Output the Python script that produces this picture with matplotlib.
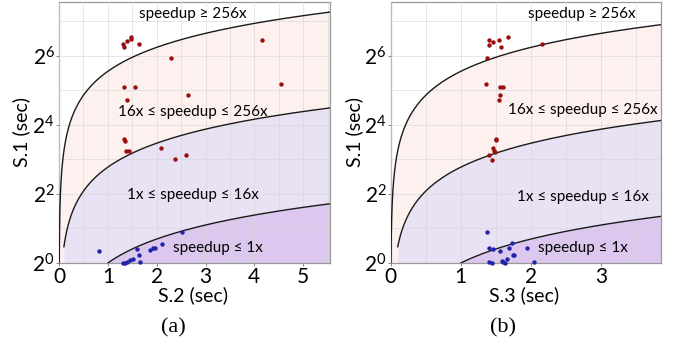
import numpy as np
import matplotlib
matplotlib.use("Agg")
import matplotlib.pyplot as plt

plt.rcParams['font.family'] = ['Lato', 'DejaVu Sans']
plt.rcParams['mathtext.fontset'] = 'custom'
plt.rcParams['mathtext.rm'] = 'Lato'
plt.rcParams['mathtext.default'] = 'regular'

# y values are positions on the S.1 axis (tick "2^n" sits at position n)
a_red_x = [1.317, 1.330, 1.385, 1.467, 1.473, 1.637, 2.285, 4.147, 1.330, 1.555,
           1.398, 2.646, 4.543, 1.337, 1.351, 1.364, 1.432, 2.094, 2.599, 2.367]
a_red_y = [6.33, 6.26, 6.41, 6.53, 6.47, 6.34, 5.93, 6.45, 5.09, 5.09,
           4.71, 4.85, 5.19, 3.58, 3.53, 3.25, 3.25, 3.33, 3.13, 3.00]
a_blue_x = [0.825, 1.589, 1.630, 1.658, 1.508, 1.453, 1.40, 1.35, 1.31, 1.862,
            1.917, 1.965, 2.115, 2.51]
a_blue_y = [0.345, 0.41, 0.23, 0.02, 0.115, 0.086, 0.04, 0.0, 0.0, 0.39,
            0.42, 0.42, 0.56, 0.89]

b_red_x = [1.398, 1.403, 1.455, 1.541, 1.669, 1.569, 2.154, 1.370, 1.355, 1.560,
           1.602, 1.560, 1.545, 1.503, 1.507, 1.460, 1.469, 1.484, 1.403, 1.446]
b_red_y = [6.45, 6.31, 6.40, 6.46, 6.53, 6.25, 6.33, 5.92, 5.18, 5.08,
           5.08, 4.86, 4.72, 3.55, 3.59, 3.33, 3.25, 3.22, 3.13, 2.99]
b_blue_x = [1.379, 1.398, 1.455, 1.560, 1.683, 1.731, 1.740, 1.764, 1.655, 1.588,
            1.607, 1.626, 1.407, 1.441, 1.95, 2.05]
b_blue_y = [0.89, 0.43, 0.40, 0.355, 0.43, 0.57, 0.24, 0.22, 0.115, 0.067,
            0.02, 0.0, 0.02, 0.01, 0.43, 0.04]

speedups = [256, 16, 1]
region_labels = ["speedup \u2265 256x", "16x \u2264 speedup \u2264 256x",
                 "1x \u2264 speedup \u2264 16x", "speedup \u2264 1x"]
y_ticks = [0, 2, 4, 6]
y_ticklabels = ["$2^{0}$", "$2^{2}$", "$2^{4}$", "$2^{6}$"]

ymax = 7.55
pink = "#fdf1ef"
lav = "#e9e1f4"
purple = "#dcc8ee"
red = "#9a0d0d"
blue = "#2222a8"

fig = plt.figure(figsize=(6.83, 3.45), dpi=100)


def panel(rect, xmax, xticks, xlabel, sub, sub_x, ylab_x, rx, ry, bx, by, label_pos):
    ax = fig.add_axes(rect)
    x_top = np.geomspace(1.0 / speedups[0], xmax, 600)
    x_mid = np.linspace(0.1, xmax, 400)
    x_low = np.linspace(1.0, xmax, 400)
    top = np.log(speedups[0] * x_top)
    mid = np.log(speedups[1] * x_mid)
    low = np.log(speedups[2] * x_low)
    ax.fill_between(np.r_[0.0, x_top], 0, np.clip(np.r_[0.0, top], 0, None),
                    color=pink, lw=0, zorder=0.5)
    ax.fill_between(x_mid, 0, mid, color=lav, lw=0, zorder=0.6)
    ax.fill_between(x_low, 0, low, color=purple, lw=0, zorder=0.7)
    ax.plot(x_top, top, color="#1a1a1a", lw=1.0, zorder=3)
    ax.plot(x_mid, mid, color="#1a1a1a", lw=1.0, zorder=3)
    ax.plot(x_low, low, color="#1a1a1a", lw=1.0, zorder=3)
    ax.scatter(rx, ry, s=10, color=red, lw=0, zorder=4, clip_on=False)
    ax.scatter(bx, by, s=10, color=blue, lw=0, zorder=4, clip_on=False)

    ax.set_xlim(0, xmax)
    ax.set_ylim(0, ymax)
    ax.set_xticks(xticks)
    ax.set_xticks(np.arange(0.5, xmax, 1.0), minor=True)
    ax.set_yticks(y_ticks)
    ax.set_yticklabels(y_ticklabels)
    ax.set_yticks(np.arange(1, ymax, 2), minor=True)
    ax.grid(True, which="both", color="#d6d6d6", lw=0.7, alpha=0.6, zorder=1)
    ax.set_axisbelow(False)
    ax.tick_params(which="major", length=2.5, width=0.7, color="#888888",
                   labelsize=15, pad=0.5)
    ax.tick_params(which="minor", length=0)
    for s in ax.spines.values():
        s.set_color("#999999")
        s.set_linewidth(0.9)
    ax.set_xlabel(xlabel, fontsize=14, va="center")
    ax.xaxis.set_label_coords(0.495, -0.125)
    ax.set_ylabel("S.1 (sec)", fontsize=14, va="center")
    ax.yaxis.set_label_coords(ylab_x, 0.5)
    for (tx, ty), t in zip(label_pos, region_labels):
        ax.text(tx, ty, t, fontsize=11, ha="center", va="center", zorder=5)
    fig.text(sub_x, 0.05, sub, fontsize=16,
             family="Liberation Serif", ha="center", va="center")
    return ax


panel([0.0864, 0.2377, 0.3968, 0.7565], 5.55, [0, 1, 2, 3, 4, 5], "S.2 (sec)", "(a)",
      0.2533, -0.14,
      a_red_x, a_red_y, a_blue_x, a_blue_y,
      [(2.75, 7.2), (2.75, 4.38), (2.75, 1.96), (3.26, 0.43)])
panel([0.572, 0.2377, 0.3953, 0.7565], 3.85, [0, 1, 2, 3], "S.3 (sec)", "(b)",
      0.7364, -0.135,
      b_red_x, b_red_y, b_blue_x, b_blue_y,
      [(2.72, 7.2), (2.74, 4.44), (2.74, 1.9), (2.74, 0.43)])

fig.savefig("out.png", dpi=100)
